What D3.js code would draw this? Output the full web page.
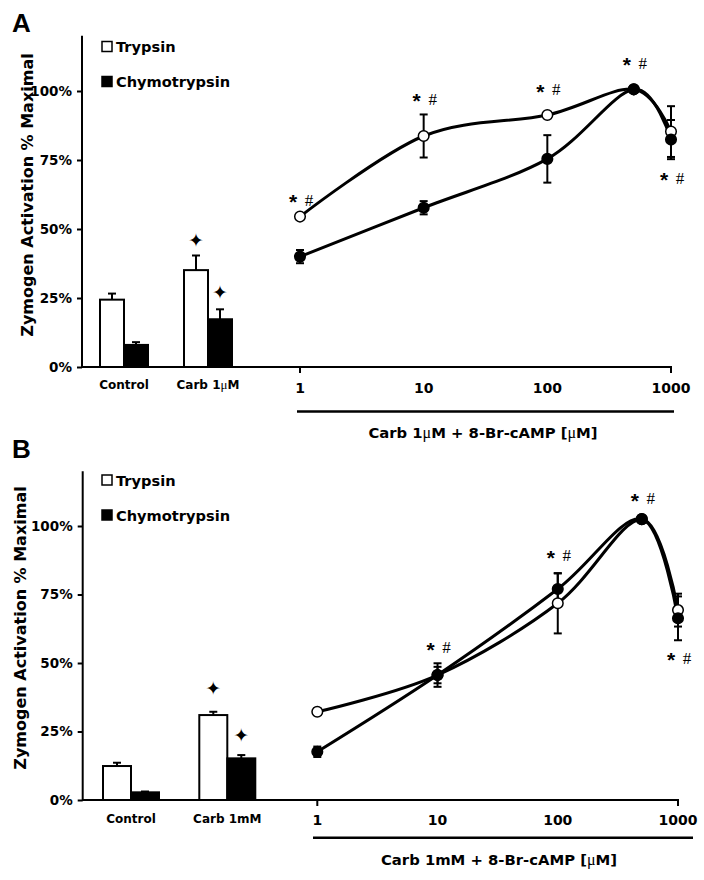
<!DOCTYPE html>
<html>
<head>
<meta charset="utf-8">
<script src="https://cdn.jsdelivr.net/npm/d3@7"></script>
<style>
  html, body { margin: 0; padding: 0; background: #fff; }
  svg { display: block; }
</style>
</head>
<body>
<script>
// ---------------- DATA ----------------
const yTickValues = [0, 25, 50, 75, 100];
const yTickLabels = ["0%", "25%", "50%", "75%", "100%"];
const legendLabels = ["Trypsin", "Chymotrypsin"];
const doseLevels = [1, 10, 100, 500, 1000];
const doseTicks = [1, 10, 100, 1000];
const doseTickLabels = ["1", "10", "100", "1000"];
const sigLabel = ["*", "#"];
const barStarLabel = "\u2726";

// Panel A
const barCategoriesA = ["Control", "Carb 1\u03BCM"];
const barTrypsinA = [24.4, 35.1];
const barTrypsinErrA = [2.2, 5.3];
const barChymoA = [8.0, 17.3];
const barChymoErrA = [1.0, 3.6];
const barStarTrypsinA = [null, 46.0];
const barStarChymoA = [null, 27.3];
const trypsinA = [54.5, 83.7, 91.3, 100.6, 85.3];
const trypsinErrA = [1.0, 7.8, 1.0, 0.5, 9.2];
const chymoA = [40.0, 57.7, 75.4, 100.6, 82.4];
const chymoErrA = [2.4, 2.4, 8.6, 0.5, 7.1];
const sigLevelsA = [60.5, 97.1, 100.4, 110.0, 68.4];
const xTitleA = ["Carb 1", "\u03BC", "M + 8-Br-cAMP [", "\u03BC", "M]"];

// Panel B
const barCategoriesB = ["Control", "Carb 1mM"];
const barTrypsinB = [12.4, 31.0];
const barTrypsinErrB = [1.2, 1.2];
const barChymoB = [2.8, 15.2];
const barChymoErrB = [0.3, 1.2];
const barStarTrypsinB = [null, 40.8];
const barStarChymoB = [null, 23.7];
const trypsinB = [32.2, 45.6, 71.8, 102.5, 69.3];
const trypsinErrB = [1.2, 4.3, 11.0, 0.5, 6.0];
const chymoB = [17.6, 45.6, 77.0, 102.5, 66.3];
const chymoErrB = [1.9, 3.0, 5.7, 0.5, 8.0];
const sigLevelsB = [null, 55.6, 89.1, 109.9, 51.7];
const xTitleB = ["Carb 1mM + 8-Br-cAMP [", "\u03BC", "M]"];

// ---------------- LAYOUT ----------------
const layoutA = {
  letter: "A", letterX: 12, letterY: 32,
  axisX: 82, y0: 367, y100: 91, yMax: 120,
  barRange: [124, 208], barWidth: 24,
  logRange: [300, 671],
  yLabelX: 27, yLabelY: 195,
  legendX: 102, legendY: [41.5, 76.5],
  catLabelY: 389, tickLabelY: 393,
  underline: [297, 674, 411.5], xLabelX: 483, xLabelY: 438
};
const layoutB = {
  letter: "B", letterX: 12, letterY: 458,
  axisX: 82.7, y0: 800, y100: 526, yMax: 120,
  barRange: [131, 227.3], barWidth: 28,
  logRange: [317.3, 678],
  yLabelX: 20, yLabelY: 628,
  legendX: 102, legendY: [475, 510],
  catLabelY: 823, tickLabelY: 825,
  underline: [313, 693, 837.7], xLabelX: 499, xLabelY: 865
};

const dataA = {
  cats: barCategoriesA, bt: barTrypsinA, bte: barTrypsinErrA, bc: barChymoA, bce: barChymoErrA,
  sT: barStarTrypsinA, sC: barStarChymoA,
  t: trypsinA, te: trypsinErrA, c: chymoA, ce: chymoErrA, sig: sigLevelsA, title: xTitleA
};
const dataB = {
  cats: barCategoriesB, bt: barTrypsinB, bte: barTrypsinErrB, bc: barChymoB, bce: barChymoErrB,
  sT: barStarTrypsinB, sC: barStarChymoB,
  t: trypsinB, te: trypsinErrB, c: chymoB, ce: chymoErrB, sig: sigLevelsB, title: xTitleB
};

const FONT = "'DejaVu Sans', Verdana, sans-serif";
const svg = d3.select("body").append("svg").attr("width", 704).attr("height", 880);

function drawPanel(L, D) {
  const g = svg.append("g");
  const y = d3.scaleLinear().domain([0, 100]).range([L.y0, L.y100]);
  const xb = d3.scalePoint().domain(D.cats).range(L.barRange);
  const xl = d3.scaleLog().domain([1, 1000]).range(L.logRange);
  const bw = L.barWidth;

  // panel letter
  g.append("text").attr("x", L.letterX).attr("y", L.letterY)
    .attr("font-family", "'Liberation Sans', Arial, sans-serif").attr("font-weight", "bold")
    .attr("font-size", 26).text(L.letter);

  // y axis
  const yAxis = d3.axisLeft(y).tickValues(yTickValues).tickSize(5).tickPadding(5)
    .tickFormat((d, i) => yTickLabels[i]);
  const ya = g.append("g").attr("transform", `translate(${L.axisX},0)`).call(yAxis);
  ya.select(".domain").remove();
  ya.selectAll(".tick line").attr("stroke", "#000").attr("stroke-width", 2);
  ya.selectAll(".tick text").attr("font-family", FONT).attr("font-weight", "bold")
    .attr("font-size", 13.5).attr("fill", "#000");
  g.append("line").attr("x1", L.axisX).attr("x2", L.axisX)
    .attr("y1", y(0) + 1).attr("y2", y(L.yMax))
    .attr("stroke", "#000").attr("stroke-width", 2);

  // y label
  g.append("text").attr("transform", `translate(${L.yLabelX},${L.yLabelY}) rotate(-90)`)
    .attr("text-anchor", "middle").attr("dominant-baseline", "central")
    .attr("font-family", FONT).attr("font-weight", "bold").attr("font-size", 16)
    .text("Zymogen Activation % Maximal");

  // x axis baseline
  g.append("line").attr("x1", L.axisX).attr("x2", xl(1000) + 1)
    .attr("y1", y(0)).attr("y2", y(0)).attr("stroke", "#000").attr("stroke-width", 2);

  // log ticks (only end ticks drawn)
  g.selectAll(".ltick").data([1, 1000]).join("line")
    .attr("x1", d => xl(d)).attr("x2", d => xl(d))
    .attr("y1", y(0)).attr("y2", y(0) + 6).attr("stroke", "#000").attr("stroke-width", 2);
  g.selectAll(".ltl").data(doseTicks).join("text")
    .attr("x", (d) => xl(d)).attr("y", L.tickLabelY)
    .attr("text-anchor", "middle").attr("font-family", FONT).attr("font-weight", "bold")
    .attr("font-size", 14).text((d, i) => doseTickLabels[i]);

  // category labels
  g.selectAll(".cl").data(D.cats).join("text")
    .attr("x", d => xb(d)).attr("y", L.catLabelY)
    .attr("text-anchor", "middle").attr("font-family", FONT).attr("font-weight", "bold")
    .attr("font-size", 12).each(function (d) {
      const t = d3.select(this);
      const parts = d.split("\u03BC");
      t.append("tspan").text(parts[0]);
      if (parts.length > 1) {
        t.append("tspan").attr("font-family", "'Liberation Serif', serif").attr("font-weight", "normal")
          .attr("font-size", 13).text("\u03BC");
        t.append("tspan").text(parts[1]);
      }
    });

  // bars
  const barSeries = [
    { v: D.bt, e: D.bte, s: D.sT, fill: "#fff", off: -bw },
    { v: D.bc, e: D.bce, s: D.sC, fill: "#000", off: 0 }
  ];
  barSeries.forEach(S => {
    D.cats.forEach((c, i) => {
      const x0 = xb(c) + S.off;
      const top = y(S.v[i]);
      const et = y(S.v[i] + S.e[i]);
      g.append("line").attr("x1", x0 + bw / 2).attr("x2", x0 + bw / 2)
        .attr("y1", top).attr("y2", et).attr("stroke", "#000").attr("stroke-width", 2);
      g.append("line").attr("x1", x0 + bw / 2 - 4).attr("x2", x0 + bw / 2 + 4)
        .attr("y1", et).attr("y2", et).attr("stroke", "#000").attr("stroke-width", 2);
      g.append("rect").attr("x", x0).attr("y", top).attr("width", bw).attr("height", y(0) - top)
        .attr("fill", S.fill).attr("stroke", "#000").attr("stroke-width", 2);
      if (S.s[i] != null) {
        g.append("text").attr("x", x0 + bw / 2).attr("y", y(S.s[i]))
          .attr("text-anchor", "middle").attr("dominant-baseline", "central")
          .attr("font-family", "'DejaVu Sans', sans-serif").attr("font-size", 19)
          .text(barStarLabel);
      }
    });
  });

  // legend
  legendLabels.forEach((lab, i) => {
    g.append("rect").attr("x", L.legendX).attr("y", L.legendY[i]).attr("width", 10).attr("height", 10)
      .attr("fill", i === 0 ? "#fff" : "#000").attr("stroke", "#000").attr("stroke-width", 1.5);
    g.append("text").attr("x", L.legendX + 14).attr("y", L.legendY[i] + 10.5)
      .attr("font-family", FONT).attr("font-weight", "bold").attr("font-size", 14.6).text(lab);
  });

  // lines
  const line = d3.line().x((d, i) => xl(doseLevels[i])).y(d => y(d))
    .curve(d3.curveCardinal.tension(0));
  const lineSeries = [
    { v: D.t, e: D.te, fill: "#fff" },
    { v: D.c, e: D.ce, fill: "#000" }
  ];
  lineSeries.forEach(S => {
    g.append("path").datum(S.v).attr("d", line).attr("fill", "none")
      .attr("stroke", "#000").attr("stroke-width", 3);
  });
  lineSeries.forEach(S => {
    S.v.forEach((v, i) => {
      const x = xl(doseLevels[i]);
      const a = y(v + S.e[i]), b = y(v - S.e[i]);
      g.append("line").attr("x1", x).attr("x2", x).attr("y1", a).attr("y2", b)
        .attr("stroke", "#000").attr("stroke-width", 2);
      [a, b].forEach(yy => g.append("line").attr("x1", x - 4).attr("x2", x + 4)
        .attr("y1", yy).attr("y2", yy).attr("stroke", "#000").attr("stroke-width", 2));
    });
  });
  lineSeries.forEach(S => {
    g.selectAll(null).data(S.v).join("circle")
      .attr("cx", (d, i) => xl(doseLevels[i])).attr("cy", d => y(d)).attr("r", 5.3)
      .attr("fill", S.fill).attr("stroke", "#000").attr("stroke-width", 1.5);
  });

  // significance labels
  D.sig.forEach((s, i) => {
    if (s == null) return;
    const cx = xl(doseLevels[i]) + 1, cy = y(s);
    g.append("text").attr("x", cx - 8).attr("y", cy + 9)
      .attr("text-anchor", "middle").attr("font-family", "'Liberation Sans', sans-serif")
      .attr("font-weight", "bold").attr("font-size", 21).text(sigLabel[0]);
    g.append("text").attr("x", cx + 8).attr("y", cy + 5.5)
      .attr("text-anchor", "middle").attr("font-family", "'Liberation Serif', serif")
      .attr("font-size", 17).text(sigLabel[1]);
  });

  // underline bar & x title
  const [u1, u2, uy] = L.underline;
  g.append("line").attr("x1", u1).attr("x2", u2).attr("y1", uy).attr("y2", uy)
    .attr("stroke", "#000").attr("stroke-width", 2.5);
  const xt = g.append("text").attr("x", L.xLabelX).attr("y", L.xLabelY)
    .attr("text-anchor", "middle").attr("font-family", FONT).attr("font-weight", "bold")
    .attr("font-size", 14.8);
  D.title.forEach(p => {
    const ts = xt.append("tspan").text(p);
    if (p === "\u03BC") ts.attr("font-family", "'Liberation Serif', serif").attr("font-weight", "normal").attr("font-size", 16);
  });
}

drawPanel(layoutA, dataA);
drawPanel(layoutB, dataB);
</script>
</body>
</html>
